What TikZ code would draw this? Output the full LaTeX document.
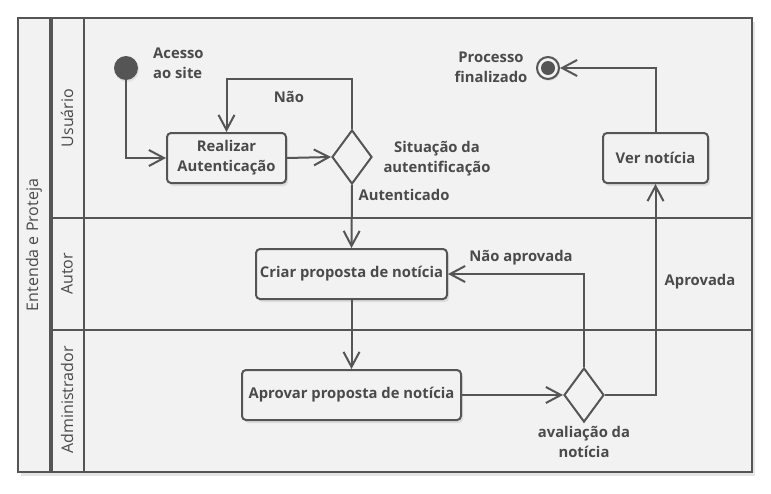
\documentclass[tikz,border=0pt]{standalone}
\usepackage{fontspec}
\setmainfont{Open Sans}
\usetikzlibrary{arrows.meta,shapes.geometric,shadows}
\definecolor{bg}{HTML}{F2F2F2}
\definecolor{ln}{HTML}{555555}
\definecolor{tx}{HTML}{4A4A4A}
\begin{document}
\begin{tikzpicture}[x=1pt,y=-1pt,
  font=\fontsize{14.8}{20}\selectfont\bfseries,
  every node/.style={text=tx},
  frame/.style={draw=ln,line width=2pt},
  act/.style={draw=ln,line width=2pt,fill=bg,rounded corners=4pt,align=center,inner sep=2pt,
     drop shadow={opacity=0.18,shadow xshift=2pt,shadow yshift=-3pt}},
  dec/.style={diamond,draw=ln,line width=2pt,fill=bg,minimum width=40pt,minimum height=54pt,inner sep=0pt},
  flow/.style={draw=ln,line width=2pt,-{Straight Barb[length=15pt,width=16pt,line width=2pt]}},
  lbl/.style={align=center,inner sep=0pt},
  lane/.style={rotate=90,font=\fontsize{16}{18}\selectfont,inner sep=0pt}]
\useasboundingbox (0,0) rectangle (771,493);
\fill[white] (0,0) rectangle (771,493);
% frame
\path[fill=bg,drop shadow={opacity=0.2,shadow xshift=3pt,shadow yshift=-4pt}] (18,18) rectangle (752,472);
\draw[frame] (18,18) rectangle (752,472);
\draw[frame] (84,18) -- (84,472);
\draw[frame] (51,218) -- (752,218);
\draw[frame] (51,330) -- (752,330);
\draw[draw=ln,line width=4pt] (51,18) -- (51,472);
% lane labels
\node[lane] (pool) at (34,245) {Entenda e Proteja};
\node[lane] (l1) at (67,118) {Usuário};
\node[lane] (l2) at (67,274) {Autor};
\node[lane] (l3) at (67,400) {Administrador};
% nodes
\node[circle,fill=ln,minimum size=24pt,inner sep=0pt,
  drop shadow={opacity=0.15,shadow xshift=1pt,shadow yshift=-2pt}] (start) at (126,68) {};
\node[act,minimum width=119pt,minimum height=50pt] (auth) at (226.5,158) {Realizar\\Autenticação};
\node[dec] (d1) at (352,157) {};
\node[act,minimum width=191pt,minimum height=50pt] (criar) at (351.5,274) {Criar proposta de notícia};
\node[act,minimum width=219pt,minimum height=50pt] (aprov) at (351.5,395) {Aprovar proposta de notícia};
\node[dec] (d2) at (584,395) {};
\node[act,minimum width=105pt,minimum height=50pt] (ver) at (655.5,158) {Ver notícia};
\node[circle,draw=ln,line width=2pt,fill=bg,minimum size=22pt,inner sep=0pt,
  drop shadow={opacity=0.15,shadow xshift=1pt,shadow yshift=-2pt}] (end) at (548,68) {};
\fill[ln] (end.center) circle (7pt);
% labels
\node[lbl,anchor=west,align=left] (t1) at (153,63) {Acesso\\ao site};
\node[lbl] (t2) at (289,97) {Não};
\node[lbl] (t3) at (437,159) {Situação da\\autentificação};
\node[lbl] (t4) at (404,195) {Autenticado};
\node[lbl] (t5) at (521,258) {Não aprovada};
\node[lbl] (t6) at (700,282) {Aprovada};
\node[lbl] (t7) at (584,442) {avaliação da\\notícia};
\node[lbl] (t8) at (491,67) {Processo\\finalizado};
% connectors
\draw[flow] (start) |- (auth.west);
\draw[flow] (auth.east) -- (d1.west);
\draw[flow] (d1.north) -- ++(0,-50) -| (auth.north);
\draw[flow] (d1.south) -- (criar.north);
\draw[flow] (criar.south) -- (aprov.north);
\draw[flow] (aprov.east) -- (d2.west);
\draw[flow] (d2.north) |- (criar.east);
\draw[flow] (d2.east) -| (ver.south);
\draw[flow] (ver.north) |- (end.east);
\end{tikzpicture}
\end{document}
